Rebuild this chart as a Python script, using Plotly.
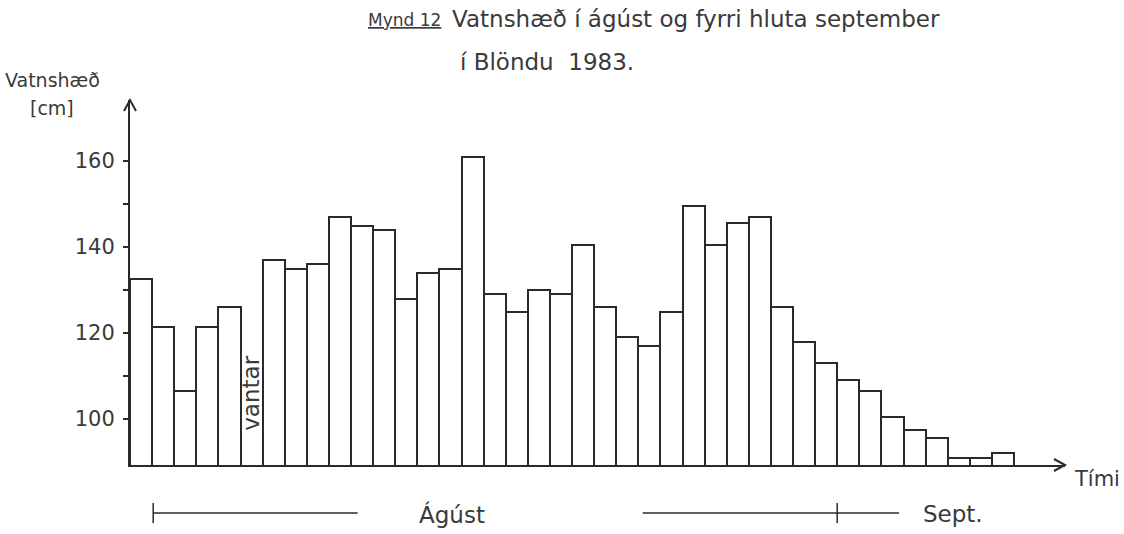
import plotly.graph_objects as go

# ---- data ----
day_slot = list(range(40))
water_level_cm = [
    132.5, 121.5, 106.5, 121.5, 126.0, None, 137.0, 135.0, 136.0, 147.0,
    145.0, 144.0, 128.0, 134.0, 135.0, 161.0, 129.0, 125.0, 130.0, 129.0,
    140.5, 126.0, 119.0, 117.0, 125.0, 149.5, 140.5, 145.5, 147.0, 126.0,
    118.0, 113.0, 109.0, 106.5, 100.5, 97.5, 95.5, 91.0, 91.0, 92.0,
]
y_tick_values = [100, 110, 120, 130, 140, 150, 160]
y_tick_labels = ["100", "", "120", "", "140", "", "160"]

# ---- layout helpers ----
W, H = 1124, 534
L, R, T, B = 130, 59, 100, 69
PW, PH = W - L - R, H - T - B

def px_x(p):
    return (p - L) / PW

def px_y(p):
    return (H - B - p) / PH

FONT = "DejaVu Sans"
INK = "#2a2a2a"
TXT = "#3a3a3a"

fig = go.Figure()
fig.add_trace(go.Bar(
    x=day_slot, y=water_level_cm, width=1.0,
    marker=dict(color="white", line=dict(color=INK, width=2)),
    showlegend=False, hoverinfo="x+y",
))

fig.update_layout(
    width=W, height=H,
    margin=dict(l=L, r=R, t=T, b=B, autoexpand=False),
    paper_bgcolor="white", plot_bgcolor="white",
    bargap=0,
    font=dict(family=FONT, color=INK),
    xaxis=dict(range=[-0.5, -0.5 + 935 / 22.1], showline=True, linecolor=INK,
               linewidth=2, showgrid=False, zeroline=False, ticks="",
               showticklabels=False, fixedrange=True),
    yaxis=dict(range=[89.3, 174.2], showline=True, linecolor=INK, linewidth=2,
               showgrid=False, zeroline=False, ticks="outside", ticklen=5,
               tickwidth=1.5, tickcolor=INK, tickvals=y_tick_values,
               ticktext=y_tick_labels, tickfont=dict(family=FONT, size=21, color=TXT),
               ticklabelstandoff=4, fixedrange=True),
)

# axis arrowheads
fig.add_shape(type="path", xref="paper", yref="paper", xsizemode="pixel",
              ysizemode="pixel", xanchor=1, yanchor=0,
              path="M -11,6 L 0,0 L -11,-6", line=dict(color=INK, width=2))
fig.add_shape(type="path", xref="paper", yref="paper", xsizemode="pixel",
              ysizemode="pixel", xanchor=0, yanchor=1,
              path="M -6,-11 L 0,0 L 6,-11", line=dict(color=INK, width=2))

# month bars under the axis
yl = px_y(513)
fig.add_shape(type="line", xref="x", yref="paper", x0=0.55, x1=9.8, y0=yl, y1=yl,
              line=dict(color=INK, width=1.5))
fig.add_shape(type="line", xref="x", yref="paper", x0=0.55, x1=0.55,
              y0=px_y(503), y1=px_y(523), line=dict(color=INK, width=1.5))
fig.add_shape(type="line", xref="x", yref="paper", x0=22.7, x1=34.3, y0=yl, y1=yl,
              line=dict(color=INK, width=1.5))
fig.add_shape(type="line", xref="x", yref="paper", x0=31.5, x1=31.5,
              y0=px_y(503), y1=px_y(523), line=dict(color=INK, width=1.5))

def note(text, x, y, size, xanchor="left", xref="paper", yref="paper", angle=0):
    fig.add_annotation(text=text, x=x, y=y, xref=xref, yref=yref, showarrow=False,
                       xanchor=xanchor, yanchor="middle", textangle=angle,
                       font=dict(family=FONT, size=size, color=TXT))

note("<u>Mynd 12</u>", px_x(366), px_y(20), 17)
note("Vatnshæð í ágúst og fyrri hluta september", px_x(450), px_y(19), 23)
note("í Blöndu  1983.", px_x(458), px_y(62), 23)
note("Vatnshæð", px_x(3), px_y(80), 19)
note("[cm]", px_x(28), px_y(108), 19)
note("Tími", px_x(1072), px_y(479), 21)
note("Ágúst", 12.5, px_y(514), 23, xref="x")
note("Sept.", 35.3, px_y(514), 23, xref="x")
note("vantar", 5, 106, 23, xanchor="center", xref="x", yref="y", angle=-90)

fig.write_html("out.html", post_script="document.body.style.margin='0';",
               config={"displayModeBar": False})
